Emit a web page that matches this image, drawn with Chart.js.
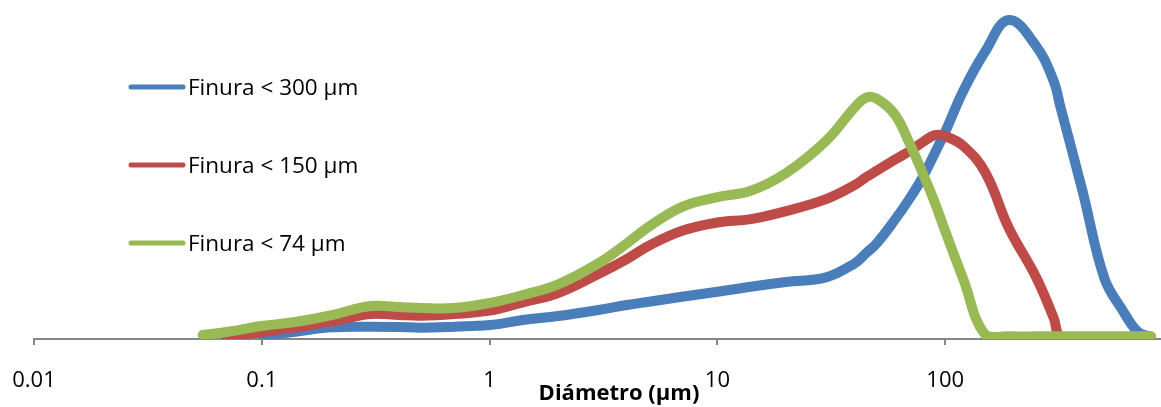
<!DOCTYPE html>
<html>
<head>
<meta charset="utf-8">
<script src="https://cdn.jsdelivr.net/npm/chart.js@4.4.1/dist/chart.umd.min.js"></script>
<style>
  html, body { margin: 0; padding: 0; background: #ffffff; }
  #wrap { width: 1161px; height: 407px; position: relative; }
</style>
</head>
<body>
<div id="wrap"><canvas id="chart"></canvas></div>
<script>
// Particle size distribution (volume, arbitrary units) by diameter in µm
const diameters = [0.055, 0.07, 0.1, 0.14, 0.2, 0.3, 0.4, 0.5, 0.7, 1, 1.4, 2, 3, 4, 5, 7, 10, 14, 20, 30,
                   40, 45, 50, 60, 70, 80, 90, 100, 120, 150, 190, 250, 300, 320, 400, 500, 600, 700, 800];

const finura300 = [null, null, 0.09, 0.22, 0.35, 0.37, 0.36, 0.34, 0.37, 0.42, 0.57, 0.69, 0.87, 1.02, 1.12, 1.27, 1.42, 1.57, 1.71, 1.85,
                   2.27, 2.58, 2.87, 3.57, 4.23, 4.88, 5.58, 6.22, 7.45, 8.64, 9.58, 8.81, 7.73, 6.99, 4.47, 1.82, 0.87, 0.22, 0.06];

const finura150 = [null, 0.06, 0.21, 0.35, 0.52, 0.75, 0.72, 0.70, 0.75, 0.85, 1.10, 1.38, 1.95, 2.40, 2.80, 3.25, 3.50, 3.60, 3.84, 4.20,
                   4.62, 4.86, 5.05, 5.38, 5.65, 5.92, 6.12, 6.09, 5.80, 5.00, 3.34, 1.87, 0.62, 0.08, 0.06, 0.06, 0.06, 0.06, 0.06];

const finura74  = [0.12, 0.21, 0.39, 0.51, 0.71, 0.99, 0.96, 0.93, 0.93, 1.08, 1.32, 1.64, 2.27, 2.87, 3.37, 3.97, 4.26, 4.45, 4.98, 5.95,
                   6.95, 7.25, 7.22, 6.75, 5.85, 4.95, 4.10, 3.24, 1.80, 0.12, 0.08, 0.08, 0.08, 0.08, 0.08, 0.08, 0.08, 0.08, 0.08];

const seriesLabels = ['Finura < 300 µm', 'Finura < 150 µm', 'Finura < 74 µm'];
const seriesColors = ['#4A7EBB', '#BE4B48', '#98B954'];
const tickValues = [0.01, 0.1, 1, 10, 100];
const axisTitle = 'Diámetro (µm)';

const FONT = '"Open Sans", "Liberation Sans", sans-serif';

function toPoints(values) {
  return diameters.map((d, i) => ({ x: d, y: values[i] }));
}

// Legend stacked on the left of the plot, one entry per series
const sideLegend = {
  id: 'sideLegend',
  afterDraw(chart) {
    const ctx = chart.ctx;
    chart.data.datasets.forEach((ds, i) => {
      const y = 87 + i * 78;
      ctx.save();
      ctx.strokeStyle = ds.borderColor;
      ctx.lineWidth = 5;
      ctx.lineCap = 'round';
      ctx.beginPath();
      ctx.moveTo(131, y);
      ctx.lineTo(183, y);
      ctx.stroke();
      ctx.fillStyle = '#000000';
      ctx.font = '22.5px ' + FONT;
      ctx.textAlign = 'left';
      ctx.textBaseline = 'alphabetic';
      ctx.fillText(ds.label, 188, y + 8);
      ctx.restore();
    });
  }
};

// Bold x-axis title sitting between the tick labels
const xTitle = {
  id: 'xTitle',
  afterDraw(chart) {
    const ctx = chart.ctx;
    ctx.save();
    ctx.fillStyle = '#000000';
    ctx.font = 'bold 22px ' + FONT;
    ctx.textAlign = 'center';
    ctx.textBaseline = 'alphabetic';
    ctx.fillText(axisTitle, 619, 400);
    ctx.restore();
  }
};

const datasets = [finura300, finura150, finura74].map((vals, i) => ({
  label: seriesLabels[i],
  data: toPoints(vals),
  borderColor: seriesColors[i],
  backgroundColor: seriesColors[i],
  borderWidth: 10,
  borderCapStyle: 'round',
  borderJoinStyle: 'round',
  pointRadius: 0,
  pointHoverRadius: 0,
  tension: 0.4,
  spanGaps: false,
  fill: false,
  order: 3 - i
}));

new Chart(document.getElementById('chart'), {
  type: 'line',
  data: { datasets },
  options: {
    responsive: true,
    maintainAspectRatio: false,
    animation: false,
    devicePixelRatio: 1,
    layout: { padding: { left: 34, right: 1, top: 6, bottom: 0 } },
    plugins: {
      legend: { display: false },
      tooltip: { enabled: false },
      title: { display: false }
    },
    scales: {
      x: {
        type: 'logarithmic',
        position: 'bottom',
        min: 0.01,
        max: 877,
        z: 1,
        border: { display: true, color: '#868686', width: 2 },
        grid: {
          display: true,
          drawOnChartArea: false,
          drawTicks: true,
          tickLength: 6,
          color: '#868686',
          lineWidth: 2
        },
        afterBuildTicks: scale => { scale.ticks = tickValues.map(v => ({ value: v })); },
        afterFit: scale => {
          scale.height = 68;
          scale.paddingLeft = 0;
          scale.paddingRight = 0;
        },
        ticks: {
          autoSkip: false,
          maxRotation: 0,
          minRotation: 0,
          padding: 23,
          color: '#000000',
          font: { family: FONT, size: 22 },
          callback: v => String(v)
        }
      },
      y: {
        display: false,
        min: 0,
        max: 10
      }
    }
  },
  plugins: [sideLegend, xTitle]
});
</script>
</body>
</html>
